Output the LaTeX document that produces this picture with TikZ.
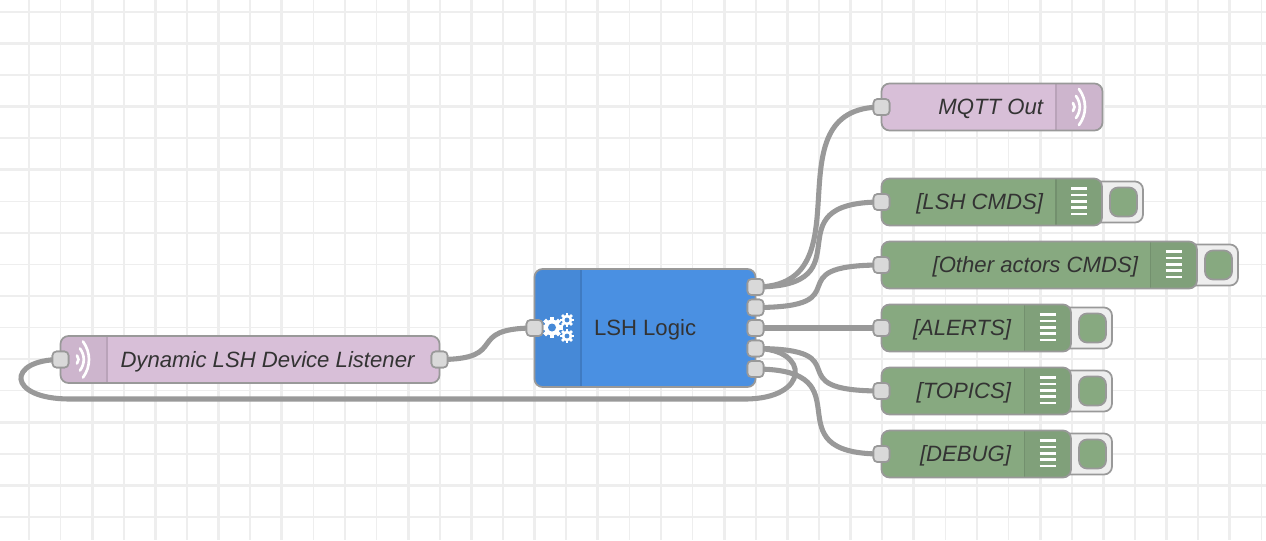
\documentclass[tikz,border=0pt]{standalone}
\usepackage{fontspec}
\setmainfont{Liberation Sans}
\definecolor{gridc}{HTML}{EEEEEE}
\definecolor{wirec}{HTML}{999999}
\definecolor{portc}{HTML}{D9D9D9}
\definecolor{mauve}{HTML}{D8BFD8}
\definecolor{mauved}{HTML}{CDB5CD}
\definecolor{leaf}{HTML}{87A980}
\definecolor{leafd}{HTML}{80A07A}
\definecolor{azure}{HTML}{4A90E2}
\definecolor{azured}{HTML}{4689D7}
\definecolor{tabc}{HTML}{EEEEEE}
\definecolor{inkc}{HTML}{333333}
\tikzset{
  thinline/.style={gridc,line width=1.2pt},
  thickline/.style={gridc,line width=2pt},
  wire/.style={wirec,line width=3.8pt},
  port/.style={draw=wirec,fill=portc,line width=1.2pt,rounded corners=3pt,minimum width=12pt,minimum height=12pt,inner sep=0pt,outer sep=0pt},
  body/.style={draw=wirec,line width=1.3pt,rounded corners=6pt},
  label/.style={text=inkc,font=\fontsize{16.6}{20}\selectfont,inner sep=0pt,outer sep=0pt},
  ilabel/.style={label,font=\fontsize{16.6}{20}\selectfont\itshape},
  glyph/.style={white,line width=1.9pt},
  wave/.style={white,line width=2pt,line cap=round},
}
\newcommand{\mygear}[5]{% x y outer hole holecolour
  \foreach \a in {0,45,...,315}
    \fill[white,shift={(#1,#2)},rotate=\a] (-0.2*#3,0.6*#3) rectangle (0.2*#3,#3);
  \fill[white] (#1,#2) circle[radius=0.76*#3*0.75pt];
  \fill[#5] (#1,#2) circle[radius=#4*0.75pt];
}
\newcommand{\mywaves}[3]{% x y direction
  \begin{scope}[shift={(#1,#2)},xscale=#3]
    \draw[wave] (-1,-4) .. controls (1,-1.5) and (1,1.5) .. (-1,4);
    \draw[wave] (2,-11) .. controls (7,-4) and (7,4) .. (2,11);
    \draw[wave] (5,-18) .. controls (13,-7) and (13,7) .. (5,18);
  \end{scope}
}
\newcommand{\mylist}[2]{% x y of the first bar's left end
  \foreach \k in {0,1,2,3,4}
    \draw[glyph] (#1,#2+6.3*\k) -- ++(16,0);
}
\begin{document}
\begin{tikzpicture}[x=0.75pt,y=-0.75pt]
\useasboundingbox (0,0) rectangle (1266,540);
\fill[white] (0,0) rectangle (1266,540);
% grid
\foreach \k in {0,...,39} {
  \pgfmathsetmacro{\xx}{29+31.6*\k}
  \pgfmathtruncatemacro{\ev}{mod(\k,2)}
  \ifnum\ev=0 \draw[thickline] (\xx,0) -- (\xx,540); \else \draw[thinline] (\xx,0) -- (\xx,540); \fi
}
\foreach \k in {-1,...,15} {
  \pgfmathsetmacro{\yy}{43.6+31.55*\k}
  \pgfmathtruncatemacro{\ev}{mod(\k+2,2)}
  \ifnum\ev=0 \draw[thickline] (0,\yy) -- (1266,\yy); \else \draw[thinline] (0,\yy) -- (1266,\yy); \fi
}
% tabs behind output nodes
\foreach \l/\t/\r in {1090/181.5/1143,1185/244.5/1238,1059/307.5/1112,1059/370.5/1112,1059/433.5/1112} {
  \draw[draw=wirec,fill=tabc,line width=1.3pt,rounded corners=6pt] (\l,\t) rectangle (\r,\t+41);
  \draw[draw=wirec,fill=leaf,line width=1.3pt,rounded corners=6pt] (\r-33,\t+6) rectangle (\r-6,\t+35);
}
% node bodies
\fill[mauve,rounded corners=6pt] (60.5,336) rectangle (439.5,383);
\fill[mauved,rounded corners=6pt] (60.5,336) rectangle (107,383);
\fill[mauved] (90,336) rectangle (107,383);
\draw[mauved!90!black,line width=1.2pt] (107,336) -- (107,383);
\draw[body] (60.5,336) rectangle (439.5,383);

\fill[azure,rounded corners=6pt] (534.5,269) rectangle (755.5,387);
\fill[azured,rounded corners=6pt] (534.5,269) rectangle (581,387);
\fill[azured] (560,269) rectangle (581,387);
\draw[azured!90!black,line width=1.2pt] (581,269) -- (581,387);
\draw[body] (534.5,269) rectangle (755.5,387);

\fill[mauve,rounded corners=6pt] (881.5,83.5) rectangle (1102.5,130.5);
\fill[mauved,rounded corners=6pt] (1056,83.5) rectangle (1102.5,130.5);
\fill[mauved] (1056,83.5) rectangle (1075,130.5);
\draw[mauved!90!black,line width=1.2pt] (1056,83.5) -- (1056,130.5);
\draw[body] (881.5,83.5) rectangle (1102.5,130.5);

\foreach \t/\d/\r in {178.5/1056/1102,241.5/1150.5/1197,304.5/1024.5/1071,367.5/1024.5/1071,430.5/1024.5/1071} {
  \fill[leaf,rounded corners=6pt] (881.5,\t) rectangle (\r,\t+47);
  \fill[leafd,rounded corners=6pt] (\d,\t) rectangle (\r,\t+47);
  \fill[leafd] (\d,\t) rectangle (\d+20,\t+47);
  \draw[leafd!90!black,line width=1.2pt] (\d,\t) -- (\d,\t+47);
  \draw[body] (881.5,\t) rectangle (\r,\t+47);
  \mylist{\d+15}{\t+10.2}
}
% icons
\mywaves{78}{359.5}{1}
\mywaves{1074}{107}{1}
\mygear{552}{327.5}{10.5}{4}{azured}
\mygear{567}{320}{7}{2.4}{azured}
\mygear{567}{336}{7}{2.4}{azured}
% ports
\node[port] (listenerin) at (60.5,359.5) {};
\node[port] (listenerout) at (439.5,359.5) {};
\node[port] (logicin) at (534.5,328) {};
\node[port] (oa) at (755.5,287) {};
\node[port] (ob) at (755.5,307.5) {};
\node[port] (oc) at (755.5,328) {};
\node[port] (od) at (755.5,348.5) {};
\node[port] (oe) at (755.5,369) {};
\node[port] (mqtt) at (881.5,107) {};
\node[port] (cmds) at (881.5,202) {};
\node[port] (actors) at (881.5,265) {};
\node[port] (alerts) at (881.5,328) {};
\node[port] (topics) at (881.5,391) {};
\node[port] (debug) at (881.5,454) {};
\coordinate (loopr) at (745,399);
\coordinate (loopl) at (70,399);
% wires
\draw[wire] (listenerout.center) .. controls +(72,0) and +(-72,0) .. (logicin.center);
\draw[wire] (oa.center) .. controls +(115,0) and +(-115,0) .. (mqtt.center);
\draw[wire] (oa.center) .. controls +(115,0) and +(-115,0) .. (cmds.center);
\draw[wire] (ob.center) .. controls +(110,0) and +(-110,0) .. (actors.center);
\draw[wire] (oc.center) -- (alerts.center);
\draw[wire] (od.center) .. controls +(110,0) and +(-110,0) .. (topics.center);
\draw[wire] (oe.center) .. controls +(115,0) and +(-115,0) .. (debug.center);
\draw[wire] (od.center) .. controls +(55,0) and +(65,0) .. (loopr) -- (loopl) .. controls +(-64,0) and +(-54,0) .. (listenerin.center);
% ports redrawn on top of the wires
\foreach \n in {listenerin,listenerout,logicin,oa,ob,oc,od,oe,mqtt,cmds,actors,alerts,topics,debug}
  \node[port] at (\n.center) {};
% labels
\node[ilabel,anchor=base west] (t1) at (120.5,367.5) {Dynamic LSH Device Listener};
\node[label,anchor=base west] (t2) at (594,335.5) {LSH Logic};
\node[ilabel,anchor=base east] (t3) at (1043,114.5) {MQTT Out};
\node[ilabel,anchor=base east] (t4) at (1043,209.5) {[LSH CMDS]};
\node[ilabel,anchor=base east] (t5) at (1138,272.5) {[Other actors CMDS]};
\node[ilabel,anchor=base east] (t6) at (1011,335.5) {[ALERTS]};
\node[ilabel,anchor=base east] (t7) at (1011,398.5) {[TOPICS]};
\node[ilabel,anchor=base east] (t8) at (1011,461.5) {[DEBUG]};
\end{tikzpicture}
\end{document}
